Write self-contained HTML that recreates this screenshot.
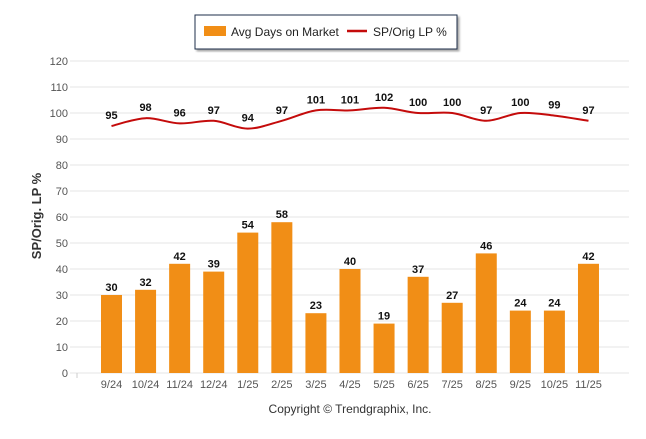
<!DOCTYPE html>
<html><head><meta charset="utf-8"><style>
body{margin:0;background:#fff;font-family:"Liberation Sans",sans-serif}
</style></head><body>
<svg id="c" width="646" height="434" xmlns="http://www.w3.org/2000/svg">
<defs><filter id="sh"><feDropShadow dx="2" dy="2" stdDeviation="1" flood-opacity="0.35"/></filter></defs>
<g>
<rect x="195" y="15" width="262" height="34" fill="#fff" stroke="#1c2e4a" stroke-width="1" filter="url(#sh)"/>
<rect x="204" y="26" width="22" height="10" fill="#f18e16"/>
<text x="231" y="36" font-size="12" fill="#222">Avg Days on Market</text>
<line x1="347" y1="31" x2="367" y2="31" stroke="#c40b0b" stroke-width="2.5"/>
<text x="373" y="36" font-size="12" fill="#222">SP/Orig LP %</text>
</g>
<text transform="translate(41,216) rotate(-90)" text-anchor="middle" font-size="13" font-weight="bold" fill="#333">SP/Orig. LP %</text>
<text x="350" y="413" text-anchor="middle" font-size="12" fill="#333">Copyright © Trendgraphix, Inc.</text>
<g id="g"></g>
</svg>
<script>
const categories=["9/24","10/24","11/24","12/24","1/25","2/25","3/25","4/25","5/25","6/25","7/25","8/25","9/25","10/25","11/25"];
const daysOnMarket=[30,32,42,39,54,58,23,40,19,37,27,46,24,24,42];
const spOrigLp=[95,98,96,97,94,97,101,101,102,100,100,97,100,99,97];
const yTicks=[0,10,20,30,40,50,60,70,80,90,100,110,120];
const NS="http://www.w3.org/2000/svg";
const g=document.getElementById('g');
const y=v=>373-v*2.6;
const x=i=>111.5+i*34.07;
function el(t,a){const e=document.createElementNS(NS,t);for(const k in a)e.setAttribute(k,a[k]);g.appendChild(e);return e;}
yTicks.forEach(t=>{
 const l=el('line',{x1:70,x2:629,y1:y(t),y2:y(t),stroke:'#e6e6e6'});
 
 
 const tx=el('text',{x:68,y:y(t)+4,'text-anchor':'end','font-size':11,fill:'#555'});tx.textContent=t;
 
 
});
el('line',{x1:77,x2:77,y1:373,y2:378,stroke:'#ccc'});
categories.forEach((c,i)=>{
 const b=el('rect',{x:x(i)-10.5,y:y(daysOnMarket[i]),width:21,height:daysOnMarket[i]*2.6,fill:'#f18e16'});
 
 
 const v=el('text',{x:x(i),y:y(daysOnMarket[i])-4,'text-anchor':'middle','font-size':11,'font-weight':'bold',fill:'#111'});v.textContent=daysOnMarket[i];
 
 
 const t=el('text',{x:x(i),y:388,'text-anchor':'middle','font-size':11,fill:'#555'});t.textContent=c;
 
 
});
const pts=spOrigLp.map((v,i)=>[x(i),y(v)]);
let d='M'+pts[0][0]+','+pts[0][1];
for(let i=0;i<pts.length-1;i++){
 const p0=pts[Math.max(0,i-1)],p1=pts[i],p2=pts[i+1],p3=pts[Math.min(pts.length-1,i+2)];
 const c1=[p1[0]+(p2[0]-p0[0])/6,p1[1]+(p2[1]-p0[1])/6],c2=[p2[0]-(p3[0]-p1[0])/6,p2[1]-(p3[1]-p1[1])/6];
 d+=` C${c1[0]},${c1[1]} ${c2[0]},${c2[1]} ${p2[0]},${p2[1]}`;
}
const ln=el('path',{d:d,fill:'none',stroke:'#c40b0b','stroke-width':2});


spOrigLp.forEach((v,i)=>{
 const t=el('text',{x:x(i),y:y(v)-7,'text-anchor':'middle','font-size':11,'font-weight':'bold',fill:'#111'});t.textContent=v;
 
 
});
</script>
</body></html>
